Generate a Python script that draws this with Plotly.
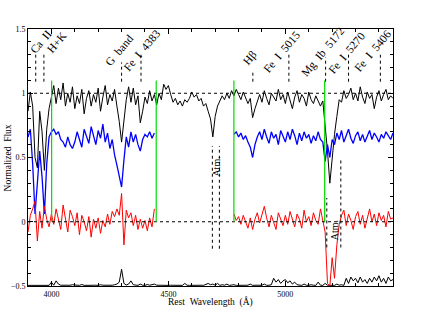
import numpy as np
import plotly.graph_objects as go

# wavelength grid of the plotted spectra (Angstrom)
wave = np.arange(3900, 5461, 10)

# galaxy spectrum (black)
flux_obs = [
    0.86, 1.01, 0.90, 0.50, 0.42, 0.86, 0.70, 0.40, 0.72, 0.88,
    0.97, 1.06, 0.92, 1.04, 0.95, 1.08, 0.90, 1.00, 0.93, 1.05,
    0.88, 0.98, 0.92, 1.03, 0.84, 0.96, 1.02, 0.90, 0.99, 0.93,
    1.04, 0.86, 0.97, 1.06, 0.91, 0.99, 0.94, 1.03, 0.90, 0.78,
    0.62, 0.80, 0.95, 1.05, 0.93, 1.04, 0.91, 0.98, 0.77, 0.86,
    0.97, 0.92, 1.02, 0.94, 0.99, 0.91, 1.00, 0.95, 1.07, 1.03,
    1.06, 0.99, 0.93, 0.96, 0.91, 0.94, 0.90, 0.95, 0.93, 0.96,
    1.01, 0.97, 0.99, 0.94, 0.96, 0.90, 0.92, 0.86, 0.80, 0.66,
    0.82, 0.90, 0.94, 0.98, 0.95, 1.00, 0.96, 1.02, 0.98, 1.03,
    0.99, 0.95, 1.01, 0.96, 0.92, 0.96, 0.81, 0.88, 0.94, 0.99,
    0.93, 1.02, 0.96, 0.91, 1.00, 0.97, 0.94, 1.03, 0.95, 0.99,
    0.92, 1.01, 0.95, 0.88, 0.97, 1.02, 0.93, 0.99, 0.96, 0.90,
    1.01, 0.95, 0.92, 0.98, 0.94, 0.90, 0.94, 0.76, 0.55, 0.30,
    0.50, 0.68, 0.82, 0.95, 0.93, 1.02, 0.96, 0.99, 1.04, 0.95,
    1.00, 0.94, 1.05, 0.97, 0.92, 1.01, 0.96, 0.99, 0.88, 0.97,
    1.02, 0.94, 0.99, 1.03, 0.95, 0.98, 0.96,
]

GAP = [None] * 33  # 4450-4770 masked

# template fit, offset (blue)
flux_fit = [
    0.66, 0.72, 0.45, 0.06, 0.30, 0.55, 0.35, 0.06, 0.45, 0.66,
    0.70, 0.72, 0.68, 0.70, 0.64, 0.62, 0.58, 0.66, 0.60, 0.57,
    0.62, 0.70, 0.64, 0.58, 0.72, 0.66, 0.61, 0.74, 0.68, 0.60,
    0.71, 0.65, 0.76, 0.62, 0.69, 0.57, 0.64, 0.52, 0.44, 0.35,
    0.27, 0.48, 0.66, 0.58, 0.70, 0.62, 0.68, 0.60, 0.55, 0.64,
    0.68, 0.66, 0.70, 0.65, 0.69,
] + GAP + [
    0.68, 0.70,
    0.66, 0.69, 0.64, 0.67, 0.62, 0.58, 0.50, 0.60, 0.66, 0.70,
    0.64, 0.72, 0.66, 0.61, 0.70, 0.65, 0.68, 0.60, 0.71, 0.66,
    0.62, 0.70, 0.64, 0.72, 0.67, 0.60, 0.69, 0.63, 0.70, 0.65,
    0.68, 0.61, 0.67, 0.63, 0.70, 0.64, 0.62, 0.47, 0.60, 0.50,
    0.64, 0.60, 0.69, 0.64, 0.71, 0.62, 0.68, 0.72, 0.65, 0.61,
    0.67, 0.70, 0.63, 0.68, 0.62, 0.66, 0.71, 0.64, 0.69, 0.66,
    0.62, 0.68, 0.65, 0.70, 0.67, 0.64, 0.69,
]

# residuals (red)
resid = [
    -0.08, 0.05, 0.10, 0.16, -0.15, 0.08, -0.05, 0.12, 0.02, -0.04,
    0.06, -0.02, 0.10, 0.03, -0.06, 0.13, 0.01, -0.08, 0.09, 0.04,
    -0.03, 0.07, -0.10, 0.05, 0.00, -0.07, 0.04, -0.12, 0.02, -0.05,
    0.03, -0.09, 0.01, -0.04, 0.06, -0.02, 0.08, 0.04, 0.10, 0.05,
    0.22, -0.18, 0.09, 0.03, 0.07, -0.03, 0.05, -0.06, 0.02, -0.05,
    0.01, -0.07, 0.03, -0.04, 0.10,
] + GAP + [
    0.06, 0.01,
    0.04, -0.02, 0.05, 0.00, -0.05, 0.03, -0.06, 0.02, 0.07, -0.01,
    0.06, 0.12, 0.03, -0.04, 0.05, 0.00, -0.06, 0.07, 0.02, -0.03,
    0.05, -0.02, 0.08, 0.01, -0.04, 0.06, 0.02, -0.05, 0.09, 0.00,
    0.04, -0.03, 0.07, 0.01, -0.02, 0.10, 0.02, -0.08, -0.48, -0.50,
    -0.28, -0.44, -0.18, -0.02, 0.05, 0.09, -0.03, 0.06, 0.01, -0.06,
    0.04, 0.08, -0.02, 0.05, -0.05, 0.03, 0.10, 0.00, 0.06, -0.03,
    0.07, 0.01, 0.05, -0.04, 0.08, 0.02, 0.03,
]

# sky / noise spectrum near the bottom axis
sky = [
    -0.495, -0.495, -0.493, -0.495, -0.494, -0.495, -0.494, -0.495, -0.493, -0.495,
    -0.47, -0.494, -0.46, -0.485, -0.494, -0.495, -0.493, -0.495, -0.494, -0.49,
    -0.495, -0.494, -0.495, -0.488, -0.495, -0.494, -0.495, -0.493, -0.495, -0.494,
    -0.495, -0.49, -0.494, -0.495, -0.493, -0.495, -0.494, -0.49, -0.485, -0.47,
    -0.37, -0.48, -0.492, -0.485, -0.46, -0.49, -0.494, -0.495, -0.485, -0.494,
    -0.495, -0.488, -0.494, -0.49, -0.485, -0.494, -0.495, -0.494, -0.495, -0.493,
    -0.495, -0.494, -0.495, -0.493, -0.495, -0.494, -0.495, -0.48, -0.494, -0.495,
    -0.494, -0.495, -0.493, -0.495, -0.494, -0.495, -0.488, -0.48, -0.49, -0.485,
    -0.494, -0.48, -0.495, -0.49, -0.494, -0.485, -0.495, -0.494, -0.49, -0.495,
    -0.494, -0.495, -0.493, -0.495, -0.494, -0.485, -0.495, -0.494, -0.495, -0.493,
    -0.494, -0.485, -0.495, -0.494, -0.49, -0.44, -0.47, -0.45, -0.48, -0.46,
    -0.45, -0.475, -0.46, -0.485, -0.47, -0.49, -0.494, -0.495, -0.485, -0.494,
    -0.495, -0.49, -0.494, -0.495, -0.47, -0.494, -0.495, -0.48, -0.494, -0.495,
    -0.494, -0.495, -0.485, -0.494, -0.49, -0.495, -0.44, -0.48, -0.43, -0.46,
    -0.44, -0.475, -0.43, -0.47, -0.45, -0.48, -0.44, -0.47, -0.43, -0.46,
    -0.42, -0.47, -0.44, -0.48, -0.43, -0.46, -0.45,
]

# absorption features
line_names = ["Ca\u00a0\u00a0II", "H+K", "G\u00a0\u00a0band", "Fe\u00a0\u00a0I\u00a0\u00a04383", "H\u03b2",
              "Fe\u00a0\u00a0I\u00a0\u00a05015", "Mg\u00a0\u00a0Ib\u00a0\u00a05172",
              "Fe\u00a0\u00a0I\u00a0\u00a05270", "Fe\u00a0\u00a0I\u00a0\u00a05406"]
line_waves = [3933, 3968, 4300, 4383, 4861, 5015, 5172, 5270, 5406]
line_tops = [1.30, 1.30, 1.24, 1.31, 1.17, 1.31, 1.28, 1.31, 1.30]
label_x = [3954, 4024, 4291, 4388, 4847, 4984, 5159, 5262, 5373]
label_y = [1.397, 1.397, 1.335, 1.335, 1.272, 1.319, 1.319, 1.311, 1.327]

# fit-window edges (green)
mask_edges = [4001, 4448, 4780, 5168]

# telluric regions
atm_waves = [4688, 4718, 5177, 5237]
atm_top = [0.59, 0.59, 0.185, 0.494]
atm_bottom = [-0.21, -0.21, -0.20, -0.20]
atm_label_x = [4704, 5208]
atm_label_y = [0.43, -0.066]

FONT = "Liberation Serif"
NB = "\u00a0"

fig = go.Figure()
fig.add_trace(go.Scatter(x=wave, y=sky, mode="lines", line=dict(color="black", width=1)))
fig.add_trace(go.Scatter(x=wave, y=flux_obs, mode="lines", line=dict(color="black", width=1)))
fig.add_trace(go.Scatter(x=wave, y=flux_fit, mode="lines", line=dict(color="#0000ff", width=1.3)))
fig.add_trace(go.Scatter(x=wave, y=resid, mode="lines", line=dict(color="#ff0000", width=1)))

# reference levels
for lev in [1, 0]:
    fig.add_shape(type="line", xref="paper", x0=0, x1=1, y0=lev, y1=lev,
                  line=dict(color="black", width=1, dash="dot"))

for w in mask_edges:
    fig.add_shape(type="line", x0=w, x1=w, y0=0, y1=1.1,
                  line=dict(color="rgb(0,220,0)", width=1.2))

for w, top in zip(line_waves, line_tops):
    fig.add_shape(type="line", x0=w, x1=w, y0=1.09, y1=top,
                  line=dict(color="black", width=1, dash="dot"))

for w, t, b in zip(atm_waves, atm_top, atm_bottom):
    fig.add_shape(type="line", x0=w, x1=w, y0=b, y1=t,
                  line=dict(color="black", width=1, dash="dot"))

for name, x, y in zip(line_names, label_x, label_y):
    fig.add_annotation(x=x, y=y, text=name, showarrow=False, textangle=-50,
                       xanchor="center", yanchor="middle",
                       font=dict(size=11.5, family=FONT, color="black"))

for x, y in zip(atm_label_x, atm_label_y):
    fig.add_annotation(x=x, y=y, text="Atm.", showarrow=False, textangle=-90,
                       xanchor="center", yanchor="middle",
                       font=dict(size=10, family=FONT, color="black"))

# axis titles placed by hand (xmgrace-like spacing)
fig.add_annotation(xref="paper", yref="paper", x=0.5, y=-0.062,
                   text="Rest" + NB * 2 + "Wavelength" + NB * 2 + "(\u00c5)",
                   showarrow=False, xanchor="center", yanchor="middle",
                   font=dict(size=9.5, family=FONT, color="black"))
fig.add_annotation(xref="paper", yref="paper", x=-0.055, y=0.5,
                   text="Normalized" + NB * 2 + "Flux", textangle=-90,
                   showarrow=False, xanchor="center", yanchor="middle",
                   font=dict(size=9.5, family=FONT, color="black"))

axis_common = dict(showline=True, linecolor="black", linewidth=1, mirror="ticks",
                   ticks="inside", ticklen=5, tickwidth=1, tickcolor="black",
                   showgrid=False, zeroline=False, automargin=False,
                   tickfont=dict(size=8, family=FONT, color="black"))

fig.update_layout(
    width=423, height=327,
    margin=dict(l=28, r=30, t=29, b=41),
    paper_bgcolor="white", plot_bgcolor="white",
    showlegend=False,
    font=dict(family=FONT, color="black"),
    xaxis=dict(range=[3900, 5460], tick0=4000, dtick=500,
               minor=dict(ticks="inside", dtick=100, ticklen=3, tickcolor="black"),
               **axis_common),
    yaxis=dict(range=[-0.5, 1.5], tick0=0, dtick=0.5,
               minor=dict(ticks="inside", dtick=0.1, ticklen=3, tickcolor="black"),
               **axis_common),
)

# drop the browser's default 8px body margin so the figure sits at the window corner
fig.write_html("out.html", config={"displayModeBar": False},
               post_script="document.body.style.margin='0';")
